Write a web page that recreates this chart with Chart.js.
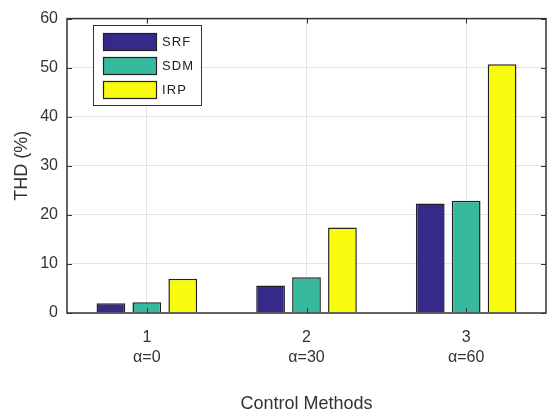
<!DOCTYPE html>
<html>
<head>
<meta charset="utf-8">
<script src="https://cdn.jsdelivr.net/npm/chart.js@4"></script>
<style>
  html, body { margin: 0; padding: 0; background: #fff; }
  #wrap { width: 547px; height: 419px; }
</style>
</head>
<body>
<div id="wrap"><canvas id="thdChart" width="547" height="419"></canvas></div>
<script>
// THD per control method
const categories = [["1", "α=0"], ["2", "α=30"], ["3", "α=60"]];
const seriesNames = ["SRF", "SDM", "IRP"];
const srfValues = [2.0, 5.6, 22.3];
const sdmValues = [2.2, 7.3, 22.9];
const irpValues = [7.0, 17.4, 50.7];
const yTicks = [0, 10, 20, 30, 40, 50, 60];

const colors = ["#352a87", "#38b99e", "#f9fb0e"];
const FONT = "'Liberation Sans', Arial, sans-serif";

// axes box, inward tick marks and the boxed legend
const boxPlugin = {
  id: "boxPlugin",
  afterDraw(chart) {
    const ctx = chart.ctx;
    const a = chart.chartArea;
    const xs = chart.scales.x, ys = chart.scales.y;
    ctx.save();
    ctx.strokeStyle = "#333";
    ctx.lineWidth = 1.5;
    ctx.strokeRect(a.left, a.top, a.right - a.left, a.bottom - a.top);
    ctx.lineWidth = 1;
    yTicks.forEach(v => {
      const y = Math.round(ys.getPixelForValue(v)) + 0.5;
      ctx.beginPath();
      ctx.moveTo(a.left, y); ctx.lineTo(a.left + 5, y);
      ctx.moveTo(a.right, y); ctx.lineTo(a.right - 5, y);
      ctx.stroke();
    });
    categories.forEach((c, i) => {
      const x = Math.round(xs.getPixelForValue(i)) + 0.5;
      ctx.beginPath();
      ctx.moveTo(x, a.top); ctx.lineTo(x, a.top + 5);
      ctx.moveTo(x, a.bottom); ctx.lineTo(x, a.bottom - 5);
      ctx.stroke();
    });

    // legend
    const lx = 93, ly = 25, lw = 108, lh = 80;
    ctx.fillStyle = "#fff";
    ctx.fillRect(lx, ly, lw, lh);
    ctx.strokeStyle = "#333";
    ctx.strokeRect(lx + 0.5, ly + 0.5, lw, lh);
    chart.data.datasets.forEach((ds, i) => {
      const sy = ly + 8 + i * 24;
      ctx.fillStyle = ds.backgroundColor;
      ctx.fillRect(lx + 10, sy, 53, 17);
      ctx.strokeStyle = "#222";
      ctx.lineWidth = 1.2;
      ctx.strokeRect(lx + 10.5, sy + 0.5, 53, 17);
      ctx.fillStyle = "#222";
      ctx.font = "13px " + FONT;
      ctx.textBaseline = "middle";
      ctx.fillText(ds.label.split("").join(String.fromCharCode(8202)), lx + 69, sy + 9);
    });
    ctx.restore();
  }
};

new Chart(document.getElementById("thdChart"), {
  type: "bar",
  data: {
    labels: categories,
    datasets: [
      { label: seriesNames[0], data: srfValues, backgroundColor: colors[0] },
      { label: seriesNames[1], data: sdmValues, backgroundColor: colors[1] },
      { label: seriesNames[2], data: irpValues, backgroundColor: colors[2] }
    ].map(d => Object.assign(d, {
      borderColor: "#222", borderWidth: 1.5,
      categoryPercentage: 0.675, barPercentage: 0.8
    }))
  },
  options: {
    responsive: false,
    animation: false,
    layout: { padding: { top: 15, right: 1, left: 0, bottom: 0 } },
    plugins: { legend: { display: false }, tooltip: { enabled: false } },
    scales: {
      x: {
        offset: true,
        grid: { offset: false, color: "#e3e3e3", drawTicks: false },
        border: { display: false },
        ticks: { color: "#333", font: { family: FONT, size: 16, lineHeight: 1.25 }, padding: 15 },
        title: { display: true, text: "Control Methods", color: "#333",
                 font: { family: FONT, size: 18 }, padding: { top: 10 } },
        afterFit(s) { s.height = 106; }
      },
      y: {
        min: 0, max: 60,
        afterBuildTicks(s) { s.ticks = yTicks.map(v => ({ value: v })); },
        grid: { color: "#e3e3e3", drawTicks: false },
        border: { display: false },
        ticks: { color: "#333", font: { family: FONT, size: 16 }, padding: 9 },
        title: { display: true, text: "THD (%)", color: "#333",
                 font: { family: FONT, size: 18 }, padding: { top: 11, bottom: 0 } },
        afterFit(s) { s.width = 67; }
      }
    }
  },
  plugins: [boxPlugin]
});
</script>
</body>
</html>
